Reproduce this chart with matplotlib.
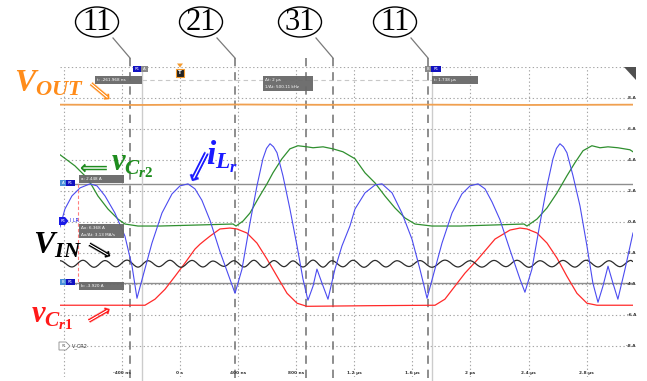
import matplotlib
matplotlib.use("Agg")
import matplotlib.pyplot as plt
from matplotlib.patches import Ellipse, Rectangle, Polygon, PathPatch
from matplotlib.path import Path

plt.rcParams['mathtext.fontset'] = 'custom'
plt.rcParams['mathtext.it'] = 'Liberation Serif:italic:bold'
plt.rcParams['mathtext.rm'] = 'Liberation Serif:bold'
plt.rcParams['mathtext.bf'] = 'Liberation Serif:bold'

W, H = 647, 381

# scope window: time in µs, vertical in A (2 A/div)
T_MIN, T_MAX = -0.826, 3.119
A_MIN, A_MAX = -10.0, 10.0

grid_t = [-0.8, -0.4, 0.0, 0.4, 0.8, 1.2, 1.6, 2.0, 2.4, 2.8]
grid_a = [-8, -6, -4, -2, 0, 2, 4, 6, 8, 10]
tick_t = [-0.4, 0.0, 0.4, 0.8, 1.2, 1.6, 2.0, 2.4, 2.8]
tick_labels = ['-400 ns', '0 s', '400 ns', '800 ns', '1.2 µs', '1.6 µs', '2 µs', '2.4 µs', '2.8 µs']
volt_labels = [8, 6, 4, 2, 0, -2, -4, -6, -8]

# cursors
cur_a, cur_b = 2.448, -3.920          # A
cur_t1, cur_t2 = -0.261968, 1.738     # µs
# markers (1)(2)(3)(1)
mark_t = [-0.344, 0.379, 0.867, 1.053, 1.707]

# resonant inductor current i_Lr
t_ilr = [-0.826, -0.792, -0.744, -0.688, -0.620, -0.571, -0.516, -0.448, -0.379, -0.330,
         -0.296, -0.255, -0.193, -0.124, -0.055, 0.000, 0.055, 0.103, 0.151, 0.207,
         0.275, 0.344, 0.379, 0.427, 0.482, 0.530, 0.571, 0.596, 0.620, 0.644, 0.668, 0.709,
         0.757, 0.806, 0.847, 0.881, 0.916, 0.943, 0.978, 1.019, 1.067, 1.115,
         1.170, 1.205, 1.274, 1.343, 1.391, 1.460, 1.528, 1.597, 1.652, 1.701,
         1.742, 1.804, 1.873, 1.941, 1.997, 2.052, 2.100, 2.148, 2.203, 2.272,
         2.341, 2.375, 2.423, 2.479, 2.527, 2.568, 2.592, 2.616, 2.640, 2.664, 2.706, 2.754,
         2.802, 2.843, 2.878, 2.912, 2.947, 2.981, 3.015, 3.064, 3.119]
i_lr = [-0.32, 0.84, 1.68, 2.20, 2.46, 2.33, 1.68, 0.58, -0.91, -2.85,
        -4.92, -3.50, -1.36, 0.58, 1.81, 2.33, 2.46, 2.14, 1.40, 0.10,
        -1.90, -3.69, -4.60, -3.04, -0.06, 2.33, 4.08, 4.75, 5.05, 4.85, 4.47, 2.98,
        0.84, -1.55, -3.69, -5.05, -4.14, -3.04, -3.95, -4.98, -3.04, -1.55,
        -0.26, 0.84, 1.88, 2.39, 2.46, 1.88, 0.58, -1.10, -3.04, -4.92,
        -3.50, -1.36, 0.58, 1.81, 2.33, 2.46, 2.14, 1.30, 0.15, -1.80,
        -3.69, -4.53, -3.04, -0.06, 2.33, 4.08, 4.75, 5.05, 4.85, 4.47, 2.98, 1.04,
        -1.55, -3.95, -5.18, -4.14, -2.85, -3.95, -4.98, -3.04, -0.71]

# resonant capacitor voltage v_Cr2
t_vcr2 = [-0.826, -0.723, -0.633, -0.565, -0.496, -0.427, -0.379, -0.289, -0.138, 0.138,
          0.365, 0.386, 0.434, 0.482, 0.537, 0.599, 0.640, 0.702, 0.757, 0.812,
          0.874, 0.916, 0.985, 1.053, 1.122, 1.205, 1.274, 1.343, 1.411, 1.480,
          1.549, 1.618, 1.735, 1.928, 2.169, 2.368, 2.389, 2.458, 2.527, 2.596,
          2.664, 2.719, 2.775, 2.836, 2.892, 2.947, 3.015, 3.098, 3.119]
v_cr2 = [4.34, 3.62, 2.78, 1.68, 0.84, 0.19, -0.13, -0.26, -0.26, -0.19,
         -0.13, -0.26, 0.06, 0.58, 1.49, 2.46, 3.17, 4.08, 4.72, 4.92,
         4.85, 4.79, 4.85, 4.72, 4.53, 4.08, 3.17, 2.52, 1.68, 0.91,
         0.26, -0.13, -0.26, -0.26, -0.19, -0.13, -0.26, 0.19, 0.91, 1.88,
         2.98, 3.82, 4.60, 4.92, 4.79, 4.85, 4.79, 4.66, 4.53]

# resonant capacitor voltage v_Cr1
t_vcr1 = [-0.826, -0.241, -0.172, -0.103, -0.034, 0.034, 0.103, 0.138, 0.172, 0.207,
          0.275, 0.344, 0.392, 0.461, 0.530, 0.599, 0.668, 0.737, 0.806, 0.874,
          1.300, 1.756, 1.824, 1.893, 1.962, 2.052, 2.169, 2.203, 2.272, 2.341,
          2.389, 2.458, 2.527, 2.596, 2.664, 2.733, 2.802, 2.871, 3.119]
v_cr1 = [-5.37, -5.37, -4.98, -4.34, -3.50, -2.65, -1.75, -1.43, -1.17, -0.91,
         -0.45, -0.39, -0.45, -0.71, -1.36, -2.39, -3.50, -4.60, -5.24, -5.44,
         -5.40, -5.37, -4.98, -4.14, -3.30, -2.39, -1.10, -0.91, -0.52, -0.39,
         -0.45, -0.71, -1.36, -2.33, -3.50, -4.60, -5.24, -5.37, -5.37]

# input voltage ripple (peaks and valleys)
t_vin = [-0.826, -0.744, -0.668, -0.592, -0.516, -0.441, -0.365, -0.289, -0.220, -0.145,
         -0.069, 0.007, 0.083, 0.158, 0.227, 0.303, 0.372, 0.441, 0.509, 0.578,
         0.647, 0.716, 0.778, 0.847, 0.916, 0.985, 1.046, 1.122, 1.191, 1.267,
         1.343, 1.418, 1.494, 1.577, 1.652, 1.735, 1.824, 1.914, 1.997, 2.079,
         2.162, 2.244, 2.320, 2.403, 2.479, 2.561, 2.637, 2.719, 2.795, 2.878,
         2.954, 3.029, 3.105, 3.119]
v_in = [-2.50, -2.90, -2.47, -2.92, -2.49, -2.89, -2.46, -2.91, -2.50, -2.88,
        -2.47, -2.92, -2.48, -2.90, -2.52, -2.86, -2.50, -2.90, -2.47, -2.93,
        -2.49, -2.88, -2.51, -2.90, -2.46, -2.91, -2.50, -2.89, -2.47, -2.92,
        -2.48, -2.90, -2.50, -2.87, -2.49, -2.92, -2.46, -2.90, -2.50, -2.91,
        -2.48, -2.88, -2.47, -2.92, -2.50, -2.89, -2.48, -2.91, -2.47, -2.90,
        -2.50, -2.88, -2.48, -2.55]

# output voltage
t_vout = [-0.826, -0.30, 0.40, 1.00, 1.70, 2.40, 3.119]
v_out = [7.57, 7.55, 7.58, 7.56, 7.57, 7.55, 7.57]

fig = plt.figure(figsize=(W / 100, H / 100), dpi=100)
ax = fig.add_axes([60 / W, 1 - 377 / H, 573 / W, 310 / H])
ax.set_xlim(T_MIN, T_MAX)
ax.set_ylim(A_MIN, A_MAX)
ax.axis('off')

# overlay in pixel units for the annotations
ov = fig.add_axes([0, 0, 1, 1], zorder=5)
ov.set_xlim(0, W)
ov.set_ylim(H, 0)
ov.axis('off')
ov.patch.set_alpha(0)

# graticule
dot = (0, (1.2, 2.2))
for t in grid_t:
    ax.plot([t, t], [A_MIN, A_MAX], ls=dot, color='#a5a5a5', lw=0.8, zorder=1)
for a in grid_a:
    ax.axhline(a, ls=dot, color='#a5a5a5', lw=0.8, zorder=1)

for t, lab in zip(tick_t, tick_labels):
    ax.text(t, -9.74, lab, ha='center', va='center', fontsize=3.1,
            color='#333333', fontweight='bold')
for a in volt_labels:
    ax.annotate(f'{a} A', xy=(T_MAX, a), xytext=(3, 0), textcoords='offset pixels',
                ha='right', va='center', fontsize=3.1, color='#333333',
                fontweight='bold', annotation_clip=False)

# cursors
ax.axhline(cur_a, color='#8e8e8e', lw=1.0, zorder=2)
ax.axhline(cur_b, color='#8e8e8e', lw=1.0, zorder=2)
for t in (cur_t1, cur_t2):
    ax.plot([t, t], [A_MIN - 0.3, A_MAX], color='#cccccc', lw=1.0, zorder=2, clip_on=False)
ax.plot([cur_t1, cur_t2], [9.13, 9.13], ls=(0, (4, 3)), color='#c8c8c8', lw=0.8, zorder=2)
ax.plot([-0.702, -0.702], [cur_a, cur_b], ls=(0, (3, 2)), color='#ff8080', lw=0.8, zorder=2)

# marker lines
for t in mark_t:
    ax.plot([t, t], [10.55, -10.4], ls=(0, (5, 3.5)), color='#7a7a7a', lw=1.2,
            zorder=2, clip_on=False)

# traces
ax.plot(t_vout, v_out, color='#f0a050', lw=1.3, zorder=3)
ax.plot(t_vcr2, v_cr2, color='#2f8f2f', lw=0.9, zorder=3)
ax.plot(t_vcr1, v_cr1, color='#ff2a2a', lw=0.9, zorder=3)

verts = [(t_vin[0], v_in[0])]
codes = [Path.MOVETO]
for k in range(len(t_vin) - 1):
    d = t_vin[k + 1] - t_vin[k]
    verts += [(t_vin[k] + 0.364 * d, v_in[k]), (t_vin[k + 1] - 0.364 * d, v_in[k + 1]),
              (t_vin[k + 1], v_in[k + 1])]
    codes += [Path.CURVE4] * 3
ax.add_patch(PathPatch(Path(verts, codes), fill=False, ec='#2b2b2b', lw=0.9, zorder=3))

ax.plot(t_ilr, i_lr, color='#4b4bf0', lw=0.8, zorder=4)


def box(x, y, w, h, lines):
    ov.add_patch(Rectangle((x, y), w, h, fc='#686868', ec='none', alpha=0.95))
    for n, s in enumerate(lines):
        ov.text(x + 2, y + 4 + 7 * n, s, fontsize=3.0, color='white', va='center')


box(95, 76, 47, 7.5, ['t: -261.968 ns'])
box(263, 76, 50, 15, ['Δt: 2 µs', '1/Δt: 500.11 kHz'])
box(432, 76, 46, 7.5, ['t: 1.738 µs'])
box(79, 174.5, 45, 8, ['a: 2.448 A'])
box(79, 224, 45, 14, ['Δx: 6.368 A', 'Δx/Δt: 3.13 MA/s'])
box(79, 282, 45, 7.5, ['b: -3.920 A'])


def tag(x, y, w, s, fc):
    ov.add_patch(Rectangle((x, y), w, 6, fc=fc, ec='none'))
    ov.text(x + w / 2, y + 3, s, fontsize=2.8, color='white', ha='center', va='center')


tag(60, 180, 6, 'A', '#4a90d9')
tag(66, 180, 9, 'R1', '#1010c0')
tag(60, 279, 6, 'B', '#4a90d9')
tag(66, 279, 9, 'R1', '#1010c0')
tag(133, 66, 8, 'R1', '#1010c0')
tag(141, 66, 7, 'A', '#8a8a8a')
tag(425, 66, 6, 'B', '#8a8a8a')
tag(431, 66, 10, 'R1', '#1010c0')

ov.add_patch(Polygon([(59, 217), (65, 217), (68.5, 221), (65, 225), (59, 225)], fc='#1a1ae6'))
ov.text(63, 221, 'R1', fontsize=2.8, color='white', ha='center', va='center')
ov.text(70, 221, 'I LR', fontsize=3.4, color='#1a1ae6', va='center')
ov.add_patch(Polygon([(59, 342), (66, 342), (70, 346), (66, 350), (59, 350)],
                     fc='white', ec='#8a8a8a', lw=0.6))
ov.text(63.5, 346, 'R1', fontsize=2.6, color='#666666', ha='center', va='center')
ov.text(72, 346, 'V_CR2', fontsize=3.6, color='#333333', va='center')

# trigger
ov.add_patch(Polygon([(177, 63.5), (183, 63.5), (180, 67.5)], fc='#f39a2e'))
ov.add_patch(Rectangle((176, 69), 8, 8, fc='#222222', ec='#f39a2e', lw=0.8))
ov.text(180, 73, 'T', fontsize=4, color='white', ha='center', va='center', fontweight='bold')
ov.add_patch(Polygon([(624, 67), (636, 67), (636, 80)], fc='#505050'))

# callouts
callouts = [('11', 97, 113, 130), ('21', 201, 217, 235), ('31', 300, 316, 333), ('11', 395, 411, 428)]
for s, cx, lx, tx in callouts:
    ov.add_patch(Ellipse((cx, 22), 43, 30, fill=False, ec='black', lw=1.0))
    ov.text(cx, 23, s, fontsize=22, family='Liberation Serif', ha='center', va='center')
    ov.plot([lx, tx], [38, 58], color='#7a7a7a', lw=0.9)

# trace names
ov.text(14, 92, r'$V_{OUT}$', color='#ff8c1a', fontsize=23, va='baseline')
ov.text(33, 253, r'$V_{IN}$', color='black', fontsize=23, va='baseline')
ov.text(206, 165, r'$i_{L_r}$', color='#1a1aff', fontsize=24, va='baseline')
ov.text(111, 170, r'$v_{C_{r2}}$', color='#1e8c1e', fontsize=22, va='baseline')
ov.text(31, 322, r'$v_{C_{r1}}$', color='#ff1a1a', fontsize=22, va='baseline')

arrows = [('⟹', 99, 92, -40, '#ff8c1a', 13), ('⟸', 93, 168, 0, '#1e8c1e', 14),
          ('⟸', 200, 166, 63, '#1a1aff', 17), ('⟹', 99, 250, -30, 'black', 13),
          ('⟹', 99, 315, 30, '#ff1a1a', 13)]
for s, x, y, rot, c, fs in arrows:
    ov.text(x, y, s, color=c, fontsize=fs, rotation=rot, rotation_mode='anchor',
            ha='center', va='center', family='DejaVu Sans', fontweight='bold')

fig.savefig('out.png', dpi=100)
